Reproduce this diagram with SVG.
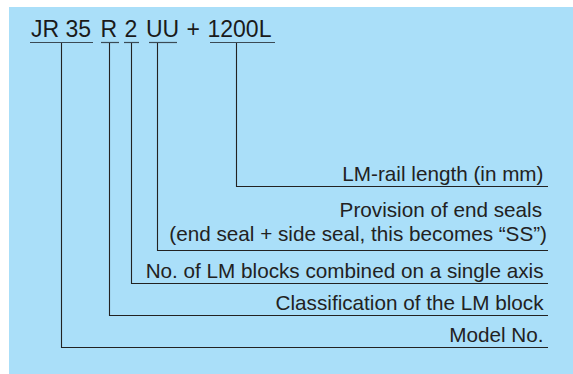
<svg xmlns="http://www.w3.org/2000/svg" width="573" height="374" viewBox="0 0 573 374">
<style>
.code{font-family:"Liberation Sans",Arial,sans-serif;font-size:23px;fill:#1a1a1a}
.lbl{font-family:"Liberation Sans",Arial,sans-serif;font-size:20.7px;fill:#222;text-anchor:end}
.ul{stroke:#3a4a55;stroke-width:1.2;fill:none}
.con{stroke:#222;stroke-width:1.1;fill:none}
</style>
<rect x="9" y="7" width="564" height="367" fill="#aadff9"/>
<g id="code">
<g id="seg-jr35"><text class="code" x="31" y="37">JR 35</text><line class="ul" x1="30" y1="42.5" x2="93" y2="42.5"/></g>
<g id="seg-r"><text class="code" x="100.5" y="37">R</text><line class="ul" x1="101" y1="42.5" x2="119" y2="42.5"/></g>
<g id="seg-2"><text class="code" x="124.5" y="37">2</text><line class="ul" x1="124" y1="42.5" x2="139" y2="42.5"/></g>
<g id="seg-uu"><text class="code" x="146" y="37">UU</text><line class="ul" x1="149" y1="42.5" x2="177" y2="42.5"/></g>
<g id="seg-plus"><text class="code" x="186.5" y="37">+</text></g>
<g id="seg-1200l"><text class="code" x="207.5" y="37">1200L</text><line class="ul" x1="210" y1="42.5" x2="275" y2="42.5"/></g>
</g>
<g id="label-rail"><text class="lbl" x="543.5" y="181">LM-rail length (in mm)</text></g>
<g id="label-seals"><text class="lbl" x="542" y="217">Provision of end seals</text><text class="lbl" x="547" y="241">(end seal + side seal, this becomes “SS”)</text></g>
<g id="label-blocks"><text class="lbl" x="543.5" y="277.5">No. of LM blocks combined on a single axis</text></g>
<g id="label-class"><text class="lbl" x="543.5" y="309.5">Classification of the LM block</text></g>
<g id="label-model"><text class="lbl" x="543.5" y="342">Model No.</text></g>
<g id="connectors">
<path class="con" d="M236.5 43V186.5H548"/>
<path class="con" d="M157.5 43V250.5H548"/>
<path class="con" d="M131.5 43V283.5H548"/>
<path class="con" d="M109.5 43V315.5H548"/>
<path class="con" d="M61.5 43V347.5H548"/>
</g>
</svg>
